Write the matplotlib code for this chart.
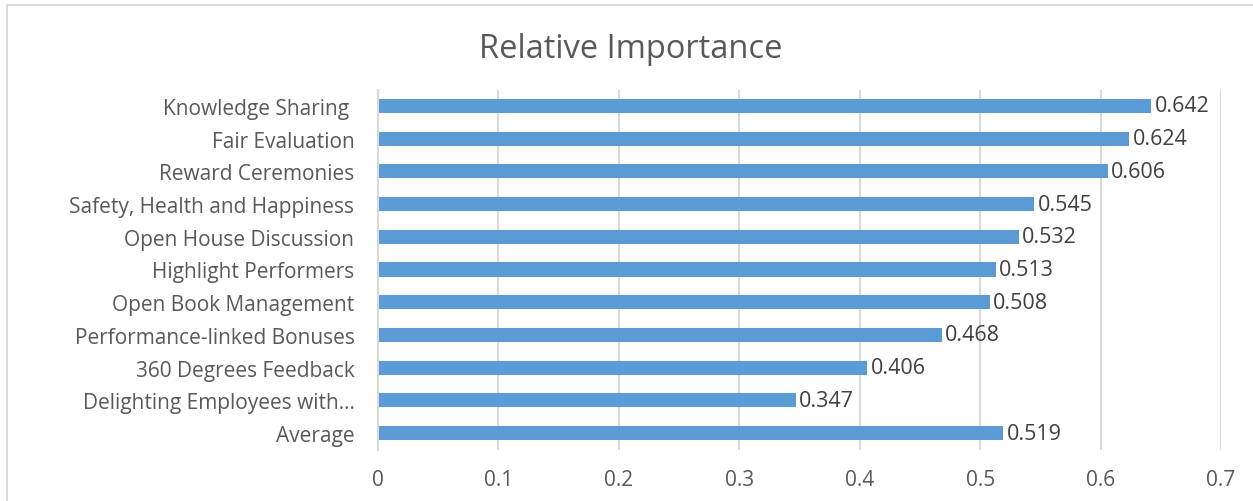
import matplotlib.pyplot as plt
from matplotlib.patches import Rectangle

categories = [
    "Knowledge Sharing ",
    "Fair Evaluation",
    "Reward Ceremonies",
    "Safety, Health and Happiness",
    "Open House Discussion",
    "Highlight Performers",
    "Open Book Management",
    "Performance-linked Bonuses",
    "360 Degrees Feedback",
    "Delighting Employees with\u2026",
    "Average",
]
values = [0.642, 0.624, 0.606, 0.545, 0.532, 0.513, 0.508, 0.468, 0.406, 0.347, 0.519]
xticks = [0, 0.1, 0.2, 0.3, 0.4, 0.5, 0.6, 0.7]

W, H = 1253, 502
text_col = "#595959"
bar_col = "#5B9BD5"
grid_col = "#D9D9D9"

plt.rcParams['font.family'] = ['Open Sans', 'DejaVu Sans']

fig = plt.figure(figsize=(W / 100, H / 100), dpi=100)
ax = fig.add_axes([378 / W, 1 - 450.5 / H, (1221 - 378) / W, (450.5 - 90.5) / H])

# chart frame, runs off the right and bottom edge
fig.patches.append(Rectangle((7 / W, -0.1), 1.2, 1 - 6 / H + 0.1,
                             transform=fig.transFigure, fill=False,
                             edgecolor="#D9D9D9", linewidth=1.5))

ypos = list(range(len(categories)))
ax.barh(ypos, values, height=0.43, color=bar_col)
for y, v in zip(ypos, values):
    ax.annotate(f"{v:.3f}", (v, y), xytext=(2.5, 0), textcoords="offset points",
                va="center", ha="left", fontsize=15.5, color="#404040")

ax.set_xlim(0, 0.7)
ax.set_ylim(len(categories) - 0.5, -0.5)
ax.set_xticks(xticks)
ax.set_xticklabels([f"{t:g}" for t in xticks])
ax.set_yticks(ypos)
ax.set_yticklabels(categories)
ax.tick_params(axis="x", length=0, pad=14, labelsize=15, labelcolor=text_col)
ax.tick_params(axis="y", length=0, pad=17, labelsize=15, labelcolor=text_col)
ax.xaxis.grid(True, color=grid_col, linewidth=1.5)
ax.set_axisbelow(True)
for s in ["top", "right", "bottom"]:
    ax.spines[s].set_visible(False)
ax.spines["left"].set_color(grid_col)
ax.spines["left"].set_linewidth(1.5)

fig.text(631 / W, 1 - 50 / H, "Relative Importance", ha="center", va="center",
         fontsize=23.5, color=text_col)

fig.savefig("out.png", dpi=100)
